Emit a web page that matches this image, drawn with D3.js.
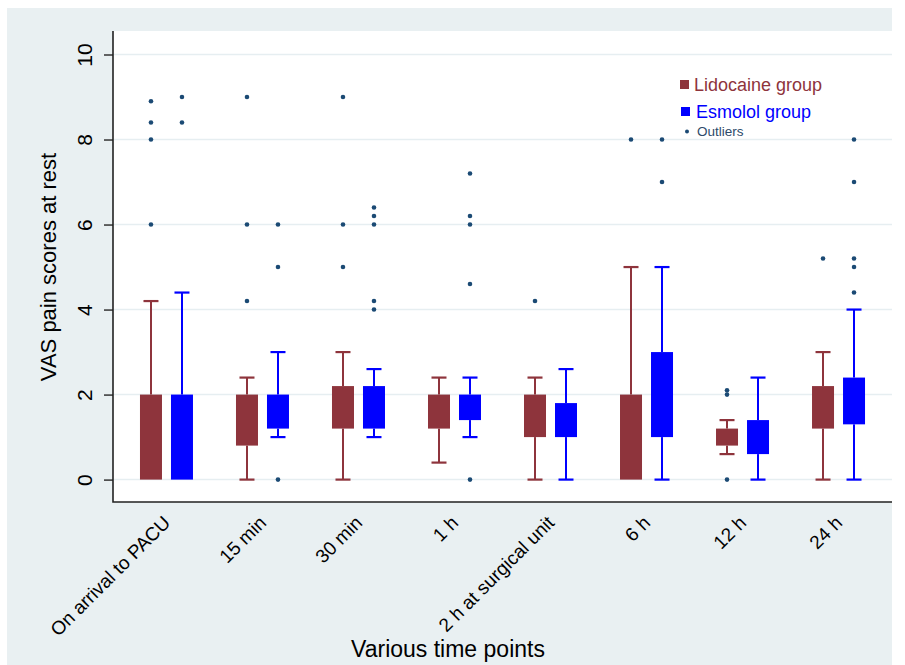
<!DOCTYPE html>
<html lang="en">
<head>
<meta charset="utf-8">
<title>VAS pain scores at rest</title>
<script src="https://d3js.org/d3.v7.min.js"></script>
<style>
    body { margin: 0; background: #fff; }
    svg { display: block; font-family: "Liberation Sans", Arial, sans-serif; }
</style>
</head>
<body>
<svg id="chart" width="905" height="665"></svg>
<script>
// time points on the x axis
const categories = ["On arrival to PACU", "15 min", "30 min", "1 h",
    "2 h at surgical unit", "6 h", "12 h", "24 h"];

// Lidocaine group: box (q1, q3), whisker ends, outliers
const lidoQ1   = [0,   0.8, 1.2, 1.2, 1.0, 0,   0.8, 1.2];
const lidoQ3   = [2.0, 2.0, 2.2, 2.0, 2.0, 2.0, 1.2, 2.2];
const lidoLow  = [0,   0,   0,   0.4, 0,   0,   0.6, 0];
const lidoHigh = [4.2, 2.4, 3.0, 2.4, 2.4, 5.0, 1.4, 3.0];
const lidoOut  = [[8.9, 8.4, 8.0, 6.0], [9.0, 6.0, 4.2], [9.0, 6.0, 5.0], [],
    [4.2], [8.0], [2.1, 2.0, 0], [5.2]];

// Esmolol group
const esmoQ1   = [0,   1.2, 1.2, 1.4, 1.0, 1.0, 0.6, 1.3];
const esmoQ3   = [2.0, 2.0, 2.2, 2.0, 1.8, 3.0, 1.4, 2.4];
const esmoLow  = [0,   1.0, 1.0, 1.0, 0,   0,   0,   0];
const esmoHigh = [4.4, 3.0, 2.6, 2.4, 2.6, 5.0, 2.4, 4.0];
const esmoOut  = [[9.0, 8.4], [6.0, 5.0, 0], [6.4, 6.2, 6.0, 4.2, 4.0],
    [7.2, 6.2, 6.0, 4.6, 0], [], [8.0, 7.0], [], [8.0, 7.0, 5.2, 5.0, 4.4]];

const yTicks = [0, 2, 4, 6, 8, 10];

const lidoColor = "#8e343c", esmoColor = "#0000ff", dotColor = "#1b4a74";

const svg = d3.select("#chart");
const plot = {left: 113, right: 892, top: 31, bottom: 502};

// outer background and plot region
svg.append("rect").attr("x", 7).attr("y", 8).attr("width", 885).attr("height", 657)
    .attr("fill", "#e9f0f2");
svg.append("rect").attr("x", plot.left).attr("y", plot.top)
    .attr("width", plot.right - plot.left).attr("height", plot.bottom - plot.top)
    .attr("fill", "#fff");

const x = d3.scalePoint().domain(categories).range([plot.left, plot.right]).padding(0.557);
const y = d3.scaleLinear().domain([0, 10]).range([479.6, 54.5]);

// grid
svg.append("g").selectAll("line").data(yTicks).enter().append("line")
    .attr("x1", plot.left).attr("x2", plot.right)
    .attr("y1", d => y(d)).attr("y2", d => y(d))
    .attr("stroke", "#e6eef1").attr("stroke-width", 1.5);

// y axis
const yAxis = d3.axisLeft(y).tickValues(yTicks).tickSize(9).tickPadding(0).tickFormat(d3.format("d"));
const gy = svg.append("g").attr("transform", "translate(" + plot.left + ",0)").call(yAxis);
gy.select(".domain").remove();
gy.selectAll(".tick line").attr("stroke", "#333").attr("stroke-width", 1.5);
gy.selectAll(".tick text").remove();
gy.selectAll(".tick").append("text")
    .attr("transform", "translate(-21,0) rotate(-90)")
    .attr("text-anchor", "middle").attr("fill", "#000")
    .attr("font-size", 21).text(d => d);

// axis lines
svg.append("path")
    .attr("d", "M" + plot.left + "," + plot.top + "V" + plot.bottom + "H" + plot.right)
    .attr("fill", "none").attr("stroke", "#222").attr("stroke-width", 1.6);

// x labels
const gx = svg.append("g");
gx.selectAll("text").data(categories).enter().append("text")
    .attr("transform", d => "translate(" + (x(d) + 5) + ",524) rotate(-45)")
    .attr("text-anchor", "end")
    .attr("font-size", 19).attr("fill", "#000").text(d => d);

// axis titles
svg.append("text").attr("x", 448).attr("y", 657).attr("text-anchor", "middle")
    .attr("font-size", 23).text("Various time points");
svg.append("text").attr("transform", "translate(56,267) rotate(-90)")
    .attr("text-anchor", "middle").attr("font-size", 22).text("VAS pain scores at rest");

// boxes
const groups = [
    {off: -15.5, color: lidoColor, q1: lidoQ1, q3: lidoQ3, lo: lidoLow, hi: lidoHigh, out: lidoOut},
    {off: 15.5, color: esmoColor, q1: esmoQ1, q3: esmoQ3, lo: esmoLow, hi: esmoHigh, out: esmoOut}
];
const boxW = 22, capW = 15;

groups.forEach(g => {
    const rows = categories.map((c, i) => ({
        cx: x(c) + g.off, q1: g.q1[i], q3: g.q3[i], lo: g.lo[i], hi: g.hi[i], out: g.out[i]
    }));
    const layer = svg.append("g");
    // whiskers
    rows.forEach(r => {
        [[r.q3, r.hi], [r.q1, r.lo]].forEach(([a, b]) => {
            if (a === b) return;
            layer.append("line").attr("x1", r.cx).attr("x2", r.cx)
                .attr("y1", y(a)).attr("y2", y(b))
                .attr("stroke", g.color).attr("stroke-width", 2);
            layer.append("line").attr("x1", r.cx - capW / 2).attr("x2", r.cx + capW / 2)
                .attr("y1", y(b)).attr("y2", y(b))
                .attr("stroke", g.color).attr("stroke-width", 2.2);
        });
    });
    layer.selectAll("rect").data(rows).enter().append("rect")
        .attr("x", d => d.cx - boxW / 2).attr("width", boxW)
        .attr("y", d => y(d.q3)).attr("height", d => y(d.q1) - y(d.q3))
        .attr("fill", g.color);
    rows.forEach(r => {
        layer.selectAll(null).data(r.out).enter().append("circle")
            .attr("cx", r.cx).attr("cy", d => y(d)).attr("r", 2.3)
            .attr("fill", dotColor);
    });
});

// legend
const legend = svg.append("g");
legend.append("rect").attr("x", 680).attr("y", 80).attr("width", 9).attr("height", 9).attr("fill", lidoColor);
legend.append("text").attr("x", 694).attr("y", 91).attr("font-size", 18).attr("fill", lidoColor)
    .text("Lidocaine group");
legend.append("rect").attr("x", 681).attr("y", 107).attr("width", 9).attr("height", 9).attr("fill", esmoColor);
legend.append("text").attr("x", 696).attr("y", 118).attr("font-size", 18).attr("fill", esmoColor)
    .text("Esmolol group");
legend.append("circle").attr("cx", 687).attr("cy", 131.5).attr("r", 2).attr("fill", dotColor);
legend.append("text").attr("x", 697).attr("y", 136).attr("font-size", 13.5).attr("fill", "#2d4a6a")
    .text("Outliers");
</script>
</body>
</html>
